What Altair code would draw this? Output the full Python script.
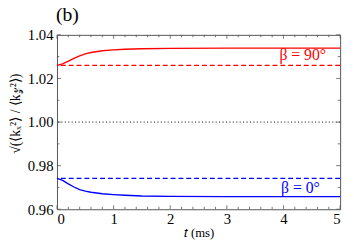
import altair as alt
import pandas as pd

# ---- data ----
t_ms = [0, 0.1, 0.2, 0.3, 0.4, 0.5, 0.6, 0.8, 1.0, 1.2, 1.5, 2.0, 3.0, 4.0, 5.0]
ratio_90 = [1.0260, 1.0267, 1.0279, 1.0292, 1.0304, 1.0313, 1.0319, 1.0327,
            1.0331, 1.0334, 1.0336, 1.0338, 1.0339, 1.0339, 1.0339]
ratio_0 = [0.9742, 0.9732, 0.9716, 0.9702, 0.9690, 0.9683, 0.9678, 0.9671,
           0.9667, 0.9664, 0.9661, 0.9659, 0.9658, 0.9658, 0.9658]
ref_levels = [1.026, 0.9742]
ref_colors = ["#ff0000", "#0000ff"]
unity = [1.0]
label_text = ["β = 90°", "β = 0°"]
label_t = [4.34, 4.30]
label_y = [1.0308, 0.9695]
x_major = [0, 1, 2, 3, 4, 5]
x_minor = [v / 5 for v in range(0, 26) if v % 5 != 0]
y_major = [0.96, 0.98, 1.00, 1.02, 1.04]
y_minor = [0.97, 0.99, 1.01, 1.03]

W, H = 289, 178
FONT = "Liberation Serif"
AXC = "#555555"

xs = alt.Scale(domain=[0, 5], nice=False, zero=False)
ys = alt.Scale(domain=[0.96, 1.04], nice=False, zero=False)

curves = pd.DataFrame({
    "t": t_ms * 2,
    "r": ratio_90 + ratio_0,
    "s": ["90"] * len(t_ms) + ["0"] * len(t_ms),
})
refs = pd.DataFrame({"y": ref_levels, "c": ref_colors})
labels = pd.DataFrame({"t": label_t, "y": label_y, "txt": label_text, "c": ref_colors})

x_axis = alt.Axis(values=x_major, format="d", ticks=False, domain=False, grid=False,
                  labelFont=FONT, labelFontSize=15, labelColor="black", labelPadding=3,
                  title="𝑡 (ms)", titleFont=FONT, titleFontSize=13, titleFontWeight="normal",
                  titleColor="black", titlePadding=0)
y_axis = alt.Axis(values=y_major, format=".2f", ticks=False, domain=False, grid=False,
                  labelFont=FONT, labelFontSize=15, labelColor="black", labelPadding=4,
                  title="√(⟨kₓ²⟩ / ⟨k𝓏²⟩)", titleFont=FONT, titleFontSize=14,
                  titleFontWeight="normal", titleColor="black", titlePadding=5,
                  titleY=80)

base_line = alt.Chart(curves).mark_line(strokeWidth=1.4).encode(
    x=alt.X("t:Q", scale=xs, axis=x_axis),
    y=alt.Y("r:Q", scale=ys, axis=y_axis),
    color=alt.Color("s:N", scale=alt.Scale(domain=["90", "0"], range=ref_colors), legend=None),
)

dashed = alt.Chart(refs).mark_rule(strokeDash=[5, 3], strokeWidth=1.3).encode(
    y=alt.Y("y:Q", scale=ys),
    color=alt.Color("c:N", scale=None),
)

dotted = alt.Chart(pd.DataFrame({"y": unity})).mark_rule(
    strokeDash=[1, 2.5], strokeWidth=1.2, color="#333333").encode(y=alt.Y("y:Q", scale=ys))

text = alt.Chart(labels).mark_text(font=FONT, fontSize=16, align="center",
                                   baseline="middle").encode(
    x=alt.X("t:Q", scale=xs), y=alt.Y("y:Q", scale=ys),
    text="txt:N", color=alt.Color("c:N", scale=None))

def xticks(vals, length):
    d = pd.DataFrame({"v": vals})
    b = alt.Chart(d).mark_rule(color=AXC, strokeWidth=0.8)
    return [
        b.encode(x=alt.X("v:Q", scale=xs), y=alt.value(H), y2=alt.value(H - length)),
        b.encode(x=alt.X("v:Q", scale=xs), y=alt.value(0), y2=alt.value(length)),
    ]

def yticks(vals, length):
    d = pd.DataFrame({"v": vals})
    b = alt.Chart(d).mark_rule(color=AXC, strokeWidth=0.8)
    return [
        b.encode(y=alt.Y("v:Q", scale=ys), x=alt.value(0), x2=alt.value(length)),
        b.encode(y=alt.Y("v:Q", scale=ys), x=alt.value(W), x2=alt.value(W - length)),
    ]

ticks = xticks(x_major, 4) + xticks(x_minor, 2.5) + yticks(y_major, 4) + yticks(y_minor, 2.5)

chart = alt.layer(dotted, dashed, base_line, text, *ticks).properties(
    width=W, height=H,
    title=alt.TitleParams("(b)", anchor="start", frame="group", offset=3, dx=-1),
    autosize=alt.AutoSizeParams(type="none"),
    padding={"left": 50, "top": 25, "right": 6, "bottom": 30},
).configure_view(stroke=AXC, strokeWidth=1).configure_title(
    font=FONT, fontSize=20, fontWeight="normal", color="black")

chart.save("out.html", embed_options={"renderer": "svg", "actions": False})
